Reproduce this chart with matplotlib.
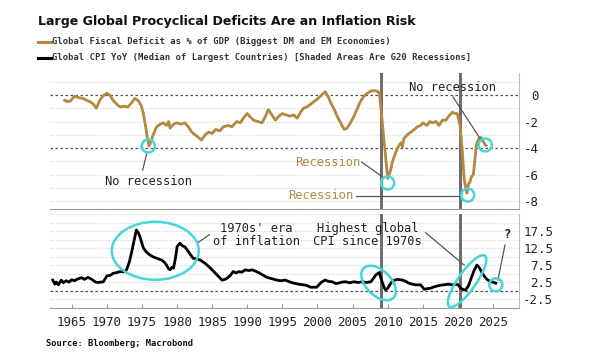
import numpy as np
import matplotlib
matplotlib.use("Agg")
import matplotlib.pyplot as plt
import matplotlib.transforms as mtransforms
from matplotlib.patches import Ellipse
from matplotlib.lines import Line2D

plt.rcParams["axes.unicode_minus"] = False

# ---- data ----
fiscal_year = [1964.0, 1964.4, 1964.8, 1965.4, 1966.0, 1966.6, 1967.1, 1967.6, 1968.1, 1968.5,
               1969.0, 1969.4, 1970.0, 1970.4, 1970.9, 1971.4, 1971.9, 1972.5, 1973.0, 1973.5,
               1974.0, 1974.5, 1974.9, 1975.2, 1975.5, 1975.75, 1976.0, 1976.3, 1976.6, 1977.1,
               1977.6, 1978.0, 1978.5, 1978.8, 1979.0, 1979.5, 1980.0, 1980.5, 1981.1, 1981.6,
               1982.1, 1982.8, 1983.5, 1984.0, 1984.5, 1985.0, 1985.5, 1986.1, 1986.6, 1987.3,
               1987.8, 1988.5, 1989.0, 1989.5, 1990.0, 1990.5, 1990.9, 1991.5, 1992.1, 1992.6,
               1993.0, 1993.5, 1994.0, 1994.5, 1995.0, 1995.5, 1996.1, 1996.6, 1997.1, 1997.6,
               1998.0, 1998.5, 1999.0, 1999.5, 2000.0, 2000.4, 2000.8, 2001.1, 2001.5, 2001.9,
               2002.4, 2002.8, 2003.3, 2003.8, 2004.2, 2004.7, 2005.2, 2005.7, 2006.1, 2006.6,
               2007.1, 2007.6, 2008.0, 2008.5, 2008.8, 2009.0, 2009.2, 2009.5, 2009.7, 2009.9,
               2010.0, 2010.2, 2010.4, 2010.7, 2011.1, 2011.5, 2011.9, 2012.1, 2012.3, 2012.8,
               2013.3, 2013.8, 2014.2, 2014.7, 2015.0, 2015.6, 2016.0, 2016.4, 2016.9, 2017.3,
               2017.8, 2018.3, 2018.7, 2019.2, 2019.6, 2019.9, 2020.3, 2020.6, 2020.9, 2021.1,
               2021.3, 2021.5, 2021.7, 2021.9, 2022.2, 2022.4, 2022.6, 2022.8, 2023.0, 2023.3,
               2023.5, 2023.8, 2024.0]
fiscal_value = [-0.4, -0.5, -0.45, -0.1, -0.2, -0.25, -0.4, -0.5, -0.7, -1.0,
                -0.4, -0.1, 0.13, 0.0, -0.4, -0.7, -0.9, -0.85, -0.9, -0.6,
                -0.25, -0.45, -0.8, -1.4, -2.3, -3.2, -3.85, -3.5, -3.0, -2.4,
                -2.2, -2.1, -2.3, -2.0, -2.5, -2.2, -2.1, -2.2, -2.1, -2.4,
                -2.8, -3.1, -3.4, -3.0, -2.8, -2.9, -2.6, -2.7, -2.4, -2.3,
                -2.4, -2.0, -2.1, -1.7, -1.4, -1.7, -1.9, -2.0, -2.1, -1.6,
                -1.1, -1.5, -1.9, -1.6, -1.4, -1.5, -1.6, -1.5, -1.75, -1.3,
                -1.0, -0.9, -0.7, -0.5, -0.3, -0.1, 0.1, 0.25, -0.1, -0.6,
                -1.1, -1.6, -2.1, -2.6, -2.5, -2.1, -1.6, -1.0, -0.5, -0.1,
                0.13, 0.3, 0.33, 0.3, 0.15, -0.8, -1.9, -3.5, -4.6, -5.8,
                -6.3, -6.0, -5.7, -5.0, -4.4, -3.9, -3.6, -3.9, -3.3, -3.0,
                -2.8, -2.6, -2.4, -2.3, -2.1, -2.3, -2.0, -2.1, -2.0, -2.3,
                -1.9, -1.9, -1.6, -1.3, -1.4, -1.4, -2.3, -4.0, -6.4, -7.0,
                -7.4, -6.7, -6.6, -6.2, -6.0, -5.0, -3.9, -3.5, -3.3, -3.2,
                -3.4, -3.7, -3.8]

cpi_year = [1962.3, 1962.6, 1962.8, 1963.1, 1963.5, 1963.8, 1964.2, 1964.6, 1965.0, 1965.4,
            1965.8, 1966.4, 1966.8, 1967.3, 1967.7, 1968.0, 1968.4, 1968.8, 1969.5, 1970.0,
            1970.5, 1970.9, 1971.4, 1971.9, 1972.4, 1972.8, 1973.2, 1973.5, 1973.8, 1974.0,
            1974.2, 1974.5, 1974.7, 1975.0, 1975.2, 1975.6, 1976.1, 1976.6, 1977.1, 1977.5,
            1977.8, 1978.2, 1978.5, 1978.8, 1979.0, 1979.3, 1979.5, 1979.8, 1980.0, 1980.4,
            1980.8, 1981.1, 1981.6, 1982.0, 1982.3, 1982.8, 1983.3, 1984.0, 1984.5, 1985.0,
            1985.7, 1986.4, 1986.8, 1987.1, 1987.6, 1988.0, 1988.4, 1988.8, 1989.2, 1989.7,
            1990.2, 1990.7, 1991.2, 1991.6, 1992.2, 1992.8, 1993.5, 1994.2, 1994.8, 1995.4,
            1996.0, 1996.6, 1997.3, 1998.0, 1998.5, 1999.0, 1999.9, 2000.5, 2001.1, 2001.6,
            2002.1, 2002.6, 2003.0, 2003.5, 2004.0, 2004.6, 2005.2, 2005.8, 2006.4, 2007.0,
            2007.6, 2008.0, 2008.3, 2008.8, 2009.0, 2009.2, 2009.5, 2009.7, 2010.0, 2010.3,
            2010.6, 2011.0, 2011.4, 2012.1, 2012.6, 2013.0, 2013.5, 2014.0, 2014.7, 2015.0,
            2015.2, 2015.7, 2016.1, 2016.6, 2017.1, 2017.6, 2018.0, 2018.6, 2019.2, 2019.7,
            2020.0, 2020.4, 2020.8, 2021.1, 2021.5, 2021.9, 2022.3, 2022.7, 2023.0, 2023.4,
            2023.8, 2024.2, 2024.7, 2025.0, 2025.4]
cpi_value = [3.2, 2.0, 2.6, 1.8, 3.2, 2.4, 3.0, 2.6, 3.3, 3.0,
             3.5, 3.9, 3.4, 4.0, 3.6, 3.2, 2.6, 2.5, 2.7, 4.4,
             4.6, 5.2, 5.4, 5.7, 5.6, 6.2, 8.5, 11.1, 14.0, 16.0,
             17.9, 17.0, 16.0, 14.0, 12.6, 11.5, 10.6, 10.0, 9.6, 9.3,
             9.1, 8.4, 7.6, 6.5, 6.2, 7.0, 6.7, 10.0, 13.0, 14.0,
             13.2, 13.0, 11.6, 10.4, 9.6, 9.4, 9.1, 8.1, 7.2, 6.2,
             4.7, 3.2, 3.4, 3.7, 4.6, 5.7, 5.3, 5.7, 5.5, 6.2,
             6.0, 6.2, 5.8, 5.4, 4.7, 4.0, 3.6, 3.2, 3.0, 3.2,
             2.7, 2.3, 2.0, 1.8, 1.6, 1.1, 1.1, 2.5, 3.2, 2.8,
             2.7, 2.2, 2.3, 2.6, 2.7, 2.4, 2.7, 2.5, 2.7, 2.5,
             2.7, 3.8, 4.7, 5.4, 4.0, 2.7, 1.0, 0.3, 0.8, 1.8,
             2.7, 3.2, 3.4, 3.2, 2.8, 2.3, 2.0, 1.8, 1.8, 1.0,
             0.5, 0.7, 0.8, 1.2, 1.5, 1.7, 1.8, 2.0, 1.8, 1.9,
             1.9, 0.8, 0.4, 0.3, 1.5, 3.8, 6.0, 7.6, 7.0, 5.5,
             4.2, 3.3, 2.7, 2.6, 2.3]

recessions = [(2008.95, 2009.4), (2020.2, 2020.65)]
top_ticks = [0, -2, -4, -6, -8]
bottom_ticks = [17.5, 12.5, 7.5, 2.5, -2.5]
year_ticks = list(range(1965, 2030, 5))

GOLD = "#b5873f"
CYAN = "#45d6da"
GRID = "#d4d4d4"
DARK = "#505050"
MONO = "DejaVu Sans Mono"


def ring(ax, x, y, w, h, angle=0):
    # ellipse centred on a data point, sized in pixels
    tr = mtransforms.IdentityTransform() + mtransforms.ScaledTranslation(x, y, ax.transData)
    ax.add_patch(Ellipse((0, 0), w, h, angle=angle, transform=tr, fill=False,
                         ec=CYAN, lw=1.8, clip_on=False, zorder=5))


def note_line(ax, x0, y0, x1, y1):
    ax.add_line(Line2D([x0, x1], [y0, y1], color="#555555", lw=0.9, clip_on=False, zorder=4))


fig = plt.figure(figsize=(6.08, 3.61), dpi=100)
ax1 = fig.add_axes([0.0822, 0.4211, 0.7714, 0.3767])
ax2 = fig.add_axes([0.0822, 0.1468, 0.7714, 0.2604])

for ax in (ax1, ax2):
    ax.set_xlim(1961.9, 2028.7)
    for s in ("left", "top"):
        ax.spines[s].set_visible(False)
    ax.spines["right"].set_color("#bdbdbd")
    ax.spines["bottom"].set_color("#9a9a9a")
    ax.yaxis.tick_right()
    for a, b in recessions:
        ax.axvspan(a, b, color="#6e6e6e", lw=0, zorder=2)

# top panel: fiscal deficit
ax1.set_ylim(-8.6, 1.66)
for v in np.arange(-8, 2, 1):
    if v in (0, -4):
        ax1.axhline(v, color=DARK, lw=0.9, ls=(0, (2, 2)), zorder=1)
    else:
        ax1.axhline(v, color=GRID, lw=0.8, ls=(0, (1, 1.5)), zorder=1)
ax1.plot(fiscal_year, fiscal_value, color=GOLD, lw=2.0, zorder=3)
ax1.set_yticks(top_ticks)
ax1.set_xticks([])
ax1.tick_params(axis="y", length=0, pad=14.5, labelsize=9)
for t in ax1.get_yticklabels():
    t.set_horizontalalignment("right")
    t.set_fontfamily(MONO)
    t.set_color("#222222")

# bottom panel: CPI
ax2.set_ylim(-5.0, 22.6)
for v in np.arange(-2.5, 22.6, 2.5):
    ax2.axhline(v, color=GRID, lw=0.8, ls=(0, (1, 1.5)), zorder=1)
ax2.axhline(0, color=DARK, lw=0.9, ls=(0, (2, 2)), zorder=1)
ax2.plot(cpi_year, cpi_value, color="black", lw=2.0, zorder=3)
ax2.set_yticks(bottom_ticks)
ax2.set_xticks(year_ticks)
ax2.tick_params(axis="y", length=0, pad=24.5, labelsize=9)
ax2.tick_params(axis="x", direction="in", length=3, color="#9a9a9a", pad=6, labelsize=9)
for t in ax2.get_yticklabels() + ax2.get_xticklabels():
    t.set_fontfamily(MONO)
    t.set_color("#222222")
for t in ax2.get_yticklabels():
    t.set_horizontalalignment("right")

# annotations, top panel
ring(ax1, 1975.9, -3.85, 13, 13)
ring(ax1, 2010.0, -6.64, 13, 13)
ring(ax1, 2021.4, -7.55, 13, 13)
ring(ax1, 2023.9, -3.77, 13, 13)
ax1.text(1975.9, -6.55, "No recession", family=MONO, fontsize=8.7, color="#222222",
         ha="center", va="center")
note_line(ax1, 1975.1, -5.66, 1975.7, -4.38)
ax1.text(2006.1, -5.06, "Recession", family=MONO, fontsize=8.7, color=GOLD,
         ha="right", va="center")
note_line(ax1, 2006.3, -5.06, 2009.3, -6.19)
ax1.text(2005.1, -7.62, "Recession", family=MONO, fontsize=8.7, color=GOLD,
         ha="right", va="center")
note_line(ax1, 2005.5, -7.62, 2020.4, -7.62)
ax1.text(2019.2, 0.53, "No recession", family=MONO, fontsize=8.7, color="#222222",
         ha="center", va="center")
note_line(ax1, 2019.3, -0.15, 2023.3, -3.4)

# annotations, bottom panel
ring(ax2, 1976.9, 11.8, 87, 58)
ring(ax2, 2008.7, 2.35, 42, 25, angle=-45)
ring(ax2, 2021.3, 2.9, 62, 18, angle=55)
ring(ax2, 2025.4, 1.8, 13, 13)
ax2.text(1991.3, 16.3, "1970s' era\nof inflation", family=MONO, fontsize=8.7,
         color="#222222", ha="center", va="center", linespacing=1.0)
note_line(ax2, 1982.9, 14.1, 1984.6, 16.5)
ax2.text(2007.1, 16.5, "Highest global\nCPI since 1970s", family=MONO, fontsize=8.7,
         color="#222222", ha="center", va="center", linespacing=1.0)
note_line(ax2, 2015.4, 17.1, 2020.9, 7.6)
ax2.text(2027.0, 16.5, "?", family=MONO, fontsize=9, fontweight="bold",
         color="#222222", ha="center", va="center")
note_line(ax2, 2026.7, 13.5, 2025.7, 3.2)

# title, legend, source
fig.text(38 / 608, 1 - 22 / 361, "Large Global Procyclical Deficits Are an Inflation Risk",
         fontsize=9.1, fontweight="bold", color="#111111", va="center", ha="left")
legend_items = [("Global Fiscal Deficit as % of GDP (Biggest DM and EM Economies)", GOLD, 42),
                ("Global CPI YoY (Median of Largest Countries) [Shaded Areas Are G20 Recessions]",
                 "black", 58)]
for label, col, ypx in legend_items:
    yf = 1 - ypx / 361
    fig.add_artist(Line2D([38 / 608, 51 / 608], [yf, yf], color=col, lw=2.2))
    fig.text(52 / 608, yf, label, family=MONO, fontsize=6.4, fontweight="bold",
             color="#333333", va="center", ha="left")
fig.text(46 / 608, 1 - 344 / 361, "Source: Bloomberg; Macrobond", family=MONO,
         fontsize=6.3, fontweight="bold", color="#111111", va="center", ha="left")

fig.savefig("out.png", dpi=100, facecolor="white")
